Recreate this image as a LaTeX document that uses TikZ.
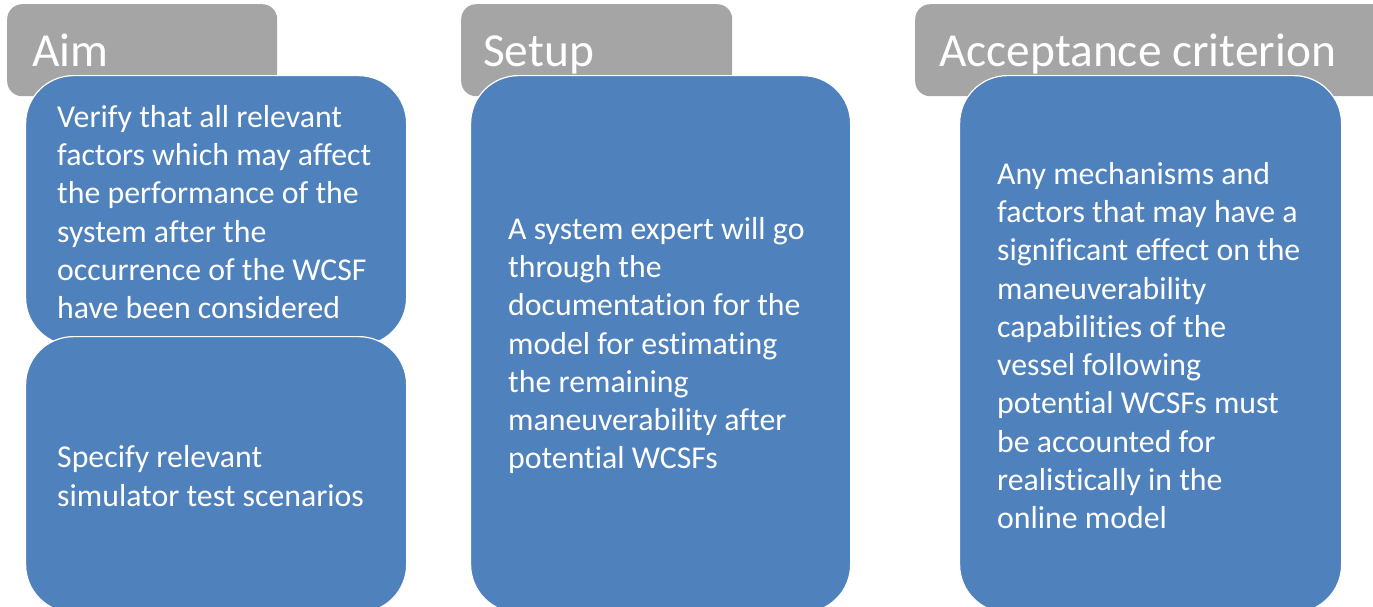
\documentclass[tikz,border=0pt]{standalone}
\usepackage{fontspec}
\setmainfont[Ligatures={NoCommon,NoRare}]{Carlito}
\definecolor{boxblue}{HTML}{4F81BD}
\definecolor{tabgray}{HTML}{A5A5A5}
\begin{document}
\begin{tikzpicture}[x=1pt,y=-1pt,
  tabbox/.style={fill=tabgray, rounded corners=15pt, draw=none, inner sep=0pt, anchor=north west},
  bluebox/.style={fill=boxblue, draw=white, line width=1.2pt, rounded corners=48pt, inner sep=0pt, anchor=north west},
  heading/.style={text=white, font=\fontsize{47.4}{57}\selectfont, inner sep=0pt, anchor=base west},
  body/.style={text=white, font=\fontsize{31.8}{38.3}\selectfont, inner sep=0pt, align=left, anchor=west}]
\clip (0,0) rectangle (1373,606);
% tabs
\node[tabbox, minimum width=270pt, minimum height=92pt] (tabAim) at (7,4) {};
\node[tabbox, minimum width=271pt, minimum height=92pt] (tabSetup) at (461,4) {};
\node[tabbox, minimum width=480pt, minimum height=92pt] (tabAcc) at (915,4) {};
\node[heading] (hAim) at (32,66) {Aim};
\node[heading] (hSetup) at (483,66) {Setup};
\node[heading] (hAcc) at (939,66) {Acceptance criterion};
% blue boxes
\node[bluebox, minimum width=381pt, minimum height=270pt] (aimTop) at (25,75) {};
\node[bluebox, minimum width=381pt, minimum height=276pt] (aimBot) at (25,336) {};
\node[bluebox, minimum width=380pt, minimum height=537pt] (setupBox) at (470,75) {};
\node[bluebox, minimum width=382pt, minimum height=537pt] (accBox) at (959,75) {};
% texts
\node[body] (tAimTop) at ([xshift=32pt,yshift=-1.5pt]aimTop.west) {Verify that all relevant\\factors which may affect\\the performance of the\\system after the\\occurrence of the WCSF\\have been considered};
\node[body] (tAimBot) at ([xshift=32pt,yshift=-1.5pt]aimBot.west) {Specify relevant\\simulator test scenarios};
\node[body] (tSetup) at ([xshift=38pt,yshift=-1.5pt]setupBox.west) {A system expert will go\\through the\\documentation for the\\model for estimating\\the remaining\\maneuverability after\\potential WCSFs};
\node[body] (tAcc) at ([xshift=38pt,yshift=-1.5pt]accBox.west) {Any mechanisms and\\factors that may have a\\significant effect on the\\maneuverability\\capabilities of the\\vessel following\\potential WCSFs must\\be accounted for\\realistically in the\\online model};
\end{tikzpicture}
\end{document}
